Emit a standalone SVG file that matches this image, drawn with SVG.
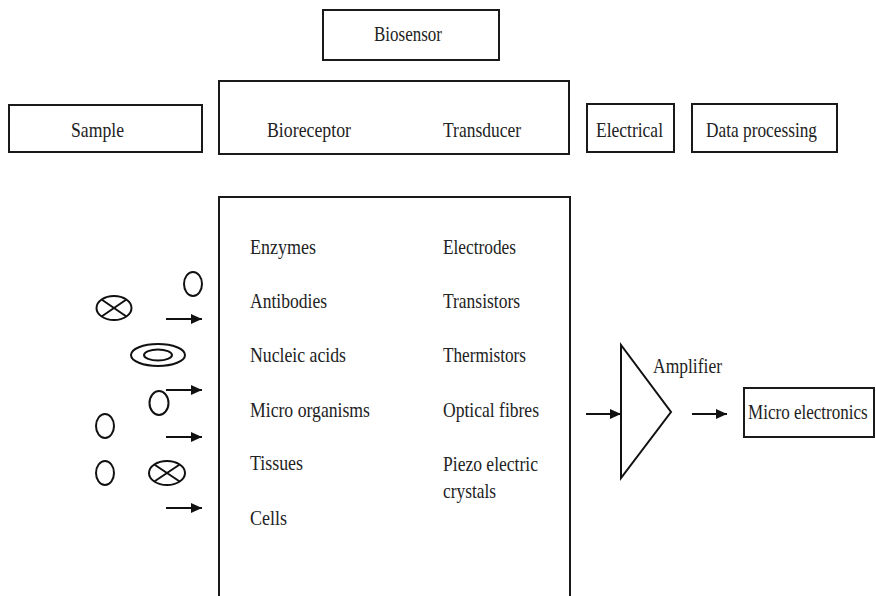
<svg xmlns="http://www.w3.org/2000/svg" width="876" height="596" viewBox="0 0 876 596">
<style>
.box{fill:none;stroke:#1a1a1a;stroke-width:2}
.sym{fill:none;stroke:#111;stroke-width:2}
.t{font-family:"Liberation Serif","Times New Roman","DejaVu Serif",serif;font-size:22px;fill:#222}
.ar{stroke:#111;stroke-width:2;fill:none;marker-end:url(#ah)}
</style>
<defs>
<marker id="ah" markerUnits="userSpaceOnUse" markerWidth="12" markerHeight="12" refX="11" refY="6" orient="auto">
<path d="M0,1 L11,6 L0,11 z" fill="#111"/>
</marker>
</defs>
<rect width="876" height="596" fill="#fff"/>

<g id="biosensor">
<rect class="box" x="323" y="10" width="176" height="50"/>
<text class="t" x="374" y="41" textLength="68" lengthAdjust="spacingAndGlyphs">Biosensor</text>
</g>

<g id="sample">
<rect class="box" x="9" y="105" width="193" height="47"/>
<text class="t" x="71" y="137" textLength="53" lengthAdjust="spacingAndGlyphs">Sample</text>
</g>

<g id="bioreceptor-transducer">
<rect class="box" x="219" y="81" width="350" height="73"/>
<text class="t" x="267" y="137" textLength="84" lengthAdjust="spacingAndGlyphs">Bioreceptor</text>
<text class="t" x="443" y="137" textLength="78" lengthAdjust="spacingAndGlyphs">Transducer</text>
</g>

<g id="electrical">
<rect class="box" x="587" y="104" width="87" height="48"/>
<text class="t" x="596" y="137" textLength="67" lengthAdjust="spacingAndGlyphs">Electrical</text>
</g>

<g id="data-processing">
<rect class="box" x="692" y="104" width="145" height="48"/>
<text class="t" x="706" y="137" textLength="111" lengthAdjust="spacingAndGlyphs">Data processing</text>
</g>

<g id="components">
<rect class="box" x="219" y="197" width="351" height="430"/>
<text class="t" x="250" y="254" textLength="66" lengthAdjust="spacingAndGlyphs">Enzymes</text>
<text class="t" x="250" y="308" textLength="77" lengthAdjust="spacingAndGlyphs">Antibodies</text>
<text class="t" x="250" y="362" textLength="96" lengthAdjust="spacingAndGlyphs">Nucleic acids</text>
<text class="t" x="250" y="417" textLength="120" lengthAdjust="spacingAndGlyphs">Micro organisms</text>
<text class="t" x="250" y="470" textLength="53" lengthAdjust="spacingAndGlyphs">Tissues</text>
<text class="t" x="250" y="525" textLength="37" lengthAdjust="spacingAndGlyphs">Cells</text>
<text class="t" x="443" y="254" textLength="73" lengthAdjust="spacingAndGlyphs">Electrodes</text>
<text class="t" x="443" y="308" textLength="77" lengthAdjust="spacingAndGlyphs">Transistors</text>
<text class="t" x="443" y="362" textLength="83" lengthAdjust="spacingAndGlyphs">Thermistors</text>
<text class="t" x="443" y="417" textLength="96" lengthAdjust="spacingAndGlyphs">Optical fibres</text>
<text class="t" x="443" y="471" textLength="95" lengthAdjust="spacingAndGlyphs">Piezo electric</text>
<text class="t" x="443" y="498" textLength="53" lengthAdjust="spacingAndGlyphs">crystals</text>
</g>

<g id="sample-particles">
<ellipse class="sym" cx="193" cy="284" rx="9" ry="12"/>
<g id="crossed-1">
<ellipse class="sym" cx="114" cy="308" rx="17.5" ry="12"/>
<path class="sym" d="M101.6,299.5 L126.4,316.5 M126.4,299.5 L101.6,316.5"/>
</g>
<g id="ring">
<ellipse class="sym" cx="158" cy="355" rx="27" ry="11"/>
<ellipse class="sym" cx="158" cy="355" rx="14" ry="5.5"/>
</g>
<ellipse class="sym" cx="159" cy="403" rx="9.5" ry="12"/>
<ellipse class="sym" cx="105" cy="426" rx="9" ry="12"/>
<ellipse class="sym" cx="105" cy="473" rx="9" ry="12"/>
<g id="crossed-2">
<ellipse class="sym" cx="167" cy="473" rx="18" ry="12"/>
<path class="sym" d="M154.3,464.5 L179.7,481.5 M179.7,464.5 L154.3,481.5"/>
</g>
</g>

<g id="amplifier">
<path class="sym" d="M621,345 L621,478 L671,412 Z" stroke-width="1.6"/>
<text class="t" x="653" y="373" textLength="69" lengthAdjust="spacingAndGlyphs">Amplifier</text>
</g>

<g id="micro-electronics">
<rect class="box" x="744" y="388" width="130" height="49"/>
<text class="t" transform="translate(748,419) scale(0.775,1)" x="0" y="0">Micro electronics</text>
</g>

<g id="connectors">
<line class="ar" x1="166" y1="319" x2="202" y2="319" stroke-width="1.5"/>
<line class="ar" x1="166" y1="390" x2="202" y2="390" stroke-width="1.5"/>
<line class="ar" x1="166" y1="437" x2="202" y2="437"/>
<line class="ar" x1="166" y1="508" x2="202" y2="508" stroke-width="1.5"/>
<line class="ar" x1="586" y1="414" x2="621" y2="414"/>
<line class="ar" x1="692" y1="414" x2="727" y2="414"/>
</g>
</svg>
